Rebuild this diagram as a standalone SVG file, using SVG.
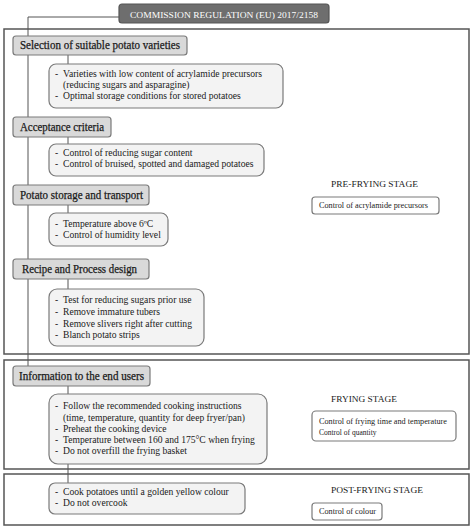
<svg xmlns="http://www.w3.org/2000/svg" width="474" height="530" viewBox="0 0 474 530">
<style>
text{font-family:"Liberation Serif","Times New Roman",serif;fill:#1a1a1a}
.frame{fill:#fff;stroke:#555;stroke-width:1.5}
.hdr rect{fill:#d9d9d9;stroke:#7a7a7a;stroke-width:1.2}
.hdr text{font-size:11.5px;stroke:#1a1a1a;stroke-width:0.25}
.cnt rect{fill:#f3f3f3;stroke:#7a7a7a;stroke-width:1.2}
.cnt text{font-size:9.6px}
.stg{font-size:8.6px}
.sbox rect{fill:#fff;stroke:#7a7a7a;stroke-width:1.2}
.sbox text{font-size:7.5px}
.conn line{stroke:#555;stroke-width:1}
</style>
<rect class="frame" x="4" y="29" width="465" height="325"/>
<rect class="frame" x="4" y="360" width="465" height="109"/>
<rect class="frame" x="4" y="474" width="465" height="51"/>
<g class="conn">
<line x1="28" y1="17" x2="119" y2="17"/>
<line x1="28" y1="17" x2="28" y2="366"/>
<line x1="68" y1="55" x2="68" y2="64"/>
<line x1="68" y1="137" x2="68" y2="144"/>
<line x1="68" y1="205" x2="68" y2="213"/>
<line x1="68" y1="279" x2="68" y2="289"/>
<line x1="68" y1="386" x2="68" y2="394"/>
<line x1="68" y1="464" x2="68" y2="483"/>
</g>
<g id="title">
<rect x="119" y="4" width="210" height="19" rx="3" fill="#6e6e6e" stroke="#555" stroke-width="1.2"/>
<text x="130" y="17.5" font-size="9" textLength="188" lengthAdjust="spacingAndGlyphs" style="fill:#fff">COMMISSION REGULATION (EU) 2017/2158</text>
</g>
<g id="h1" class="hdr"><rect x="13" y="36" width="174" height="19" rx="3"/><text x="20" y="49" textLength="160" lengthAdjust="spacingAndGlyphs">Selection of suitable potato varieties</text></g>
<g id="c1" class="cnt"><rect x="49" y="64" width="234" height="44" rx="7"/>
<text x="55" y="77">-</text><text x="63" y="77" textLength="199" lengthAdjust="spacingAndGlyphs">Varieties  with low content of acrylamide precursors</text>
<text x="63" y="88">(reducing sugars and asparagine)</text>
<text x="55" y="99">-</text><text x="63" y="99">Optimal storage conditions for stored potatoes</text></g>
<g id="h2" class="hdr"><rect x="13" y="117" width="98" height="20" rx="3"/><text x="20" y="130.5" textLength="84" lengthAdjust="spacingAndGlyphs">Acceptance criteria</text></g>
<g id="c2" class="cnt"><rect x="49" y="144" width="215" height="32" rx="7"/>
<text x="55" y="156">-</text><text x="63" y="156">Control of reducing sugar content</text>
<text x="55" y="167">-</text><text x="63" y="167">Control of bruised, spotted and damaged  potatoes</text></g>
<g id="h3" class="hdr"><rect x="13" y="185" width="136" height="20" rx="3"/><text x="20" y="198.5" textLength="123" lengthAdjust="spacingAndGlyphs">Potato storage and transport</text></g>
<g id="c3" class="cnt"><rect x="49" y="213" width="119" height="33" rx="7"/>
<text x="55" y="227">-</text><text x="63" y="227">Temperature above 6ºC</text>
<text x="55" y="238">-</text><text x="63" y="238">Control of humidity level</text></g>
<g id="h4" class="hdr"><rect x="13" y="259" width="136" height="20" rx="3"/><text x="22" y="273" textLength="115" lengthAdjust="spacingAndGlyphs">Recipe and Process design</text></g>
<g id="c4" class="cnt"><rect x="49" y="289" width="155" height="57" rx="8"/>
<text x="55" y="303">-</text><text x="63" y="303">Test for reducing sugars prior use</text>
<text x="55" y="315">-</text><text x="63" y="315">Remove immature tubers</text>
<text x="55" y="327">-</text><text x="63" y="327">Remove slivers right after cutting</text>
<text x="55" y="338">-</text><text x="63" y="338">Blanch potato strips</text></g>
<g id="pre">
<text class="stg" x="331" y="187" textLength="87" lengthAdjust="spacingAndGlyphs">PRE-FRYING STAGE</text>
<g class="sbox"><rect x="312" y="197" width="127" height="17" rx="3"/><text x="319" y="207.5" textLength="109" lengthAdjust="spacingAndGlyphs">Control of acrylamide precursors</text></g>
</g>
<g id="h5" class="hdr"><rect x="13" y="366" width="137" height="20" rx="3"/><text x="19" y="379.5" textLength="125" lengthAdjust="spacingAndGlyphs">Information to the end users</text></g>
<g id="c5" class="cnt"><rect x="49" y="394" width="218" height="70" rx="9"/>
<text x="55" y="409">-</text><text x="63" y="409">Follow the recommended cooking instructions</text>
<text x="63" y="421">(time, temperature, quantity for deep fryer/pan)</text>
<text x="55" y="432">-</text><text x="63" y="432">Preheat the cooking device</text>
<text x="55" y="443">-</text><text x="63" y="443">Temperature between 160 and 175°C when frying</text>
<text x="55" y="454">-</text><text x="63" y="454">Do not overfill the frying basket</text></g>
<g id="fry">
<text class="stg" x="331" y="402" textLength="66" lengthAdjust="spacingAndGlyphs">FRYING STAGE</text>
<g class="sbox"><rect x="312" y="411" width="144" height="30" rx="4"/>
<text x="319" y="423.5" textLength="128" lengthAdjust="spacingAndGlyphs">Control of frying time and temperature</text>
<text x="319" y="434.5">Control of quantity</text></g>
</g>
<g id="c6" class="cnt"><rect x="49" y="483" width="196" height="31" rx="6"/>
<text x="55" y="495">-</text><text x="63" y="495">Cook potatoes until a golden yellow colour</text>
<text x="55" y="506">-</text><text x="63" y="506">Do not overcook</text></g>
<g id="post">
<text class="stg" x="331" y="493" textLength="92" lengthAdjust="spacingAndGlyphs">POST-FRYING STAGE</text>
<g class="sbox"><rect x="312" y="503" width="70" height="17" rx="3"/><text x="319" y="514" textLength="57" lengthAdjust="spacingAndGlyphs">Control of colour</text></g>
</g>
</svg>
